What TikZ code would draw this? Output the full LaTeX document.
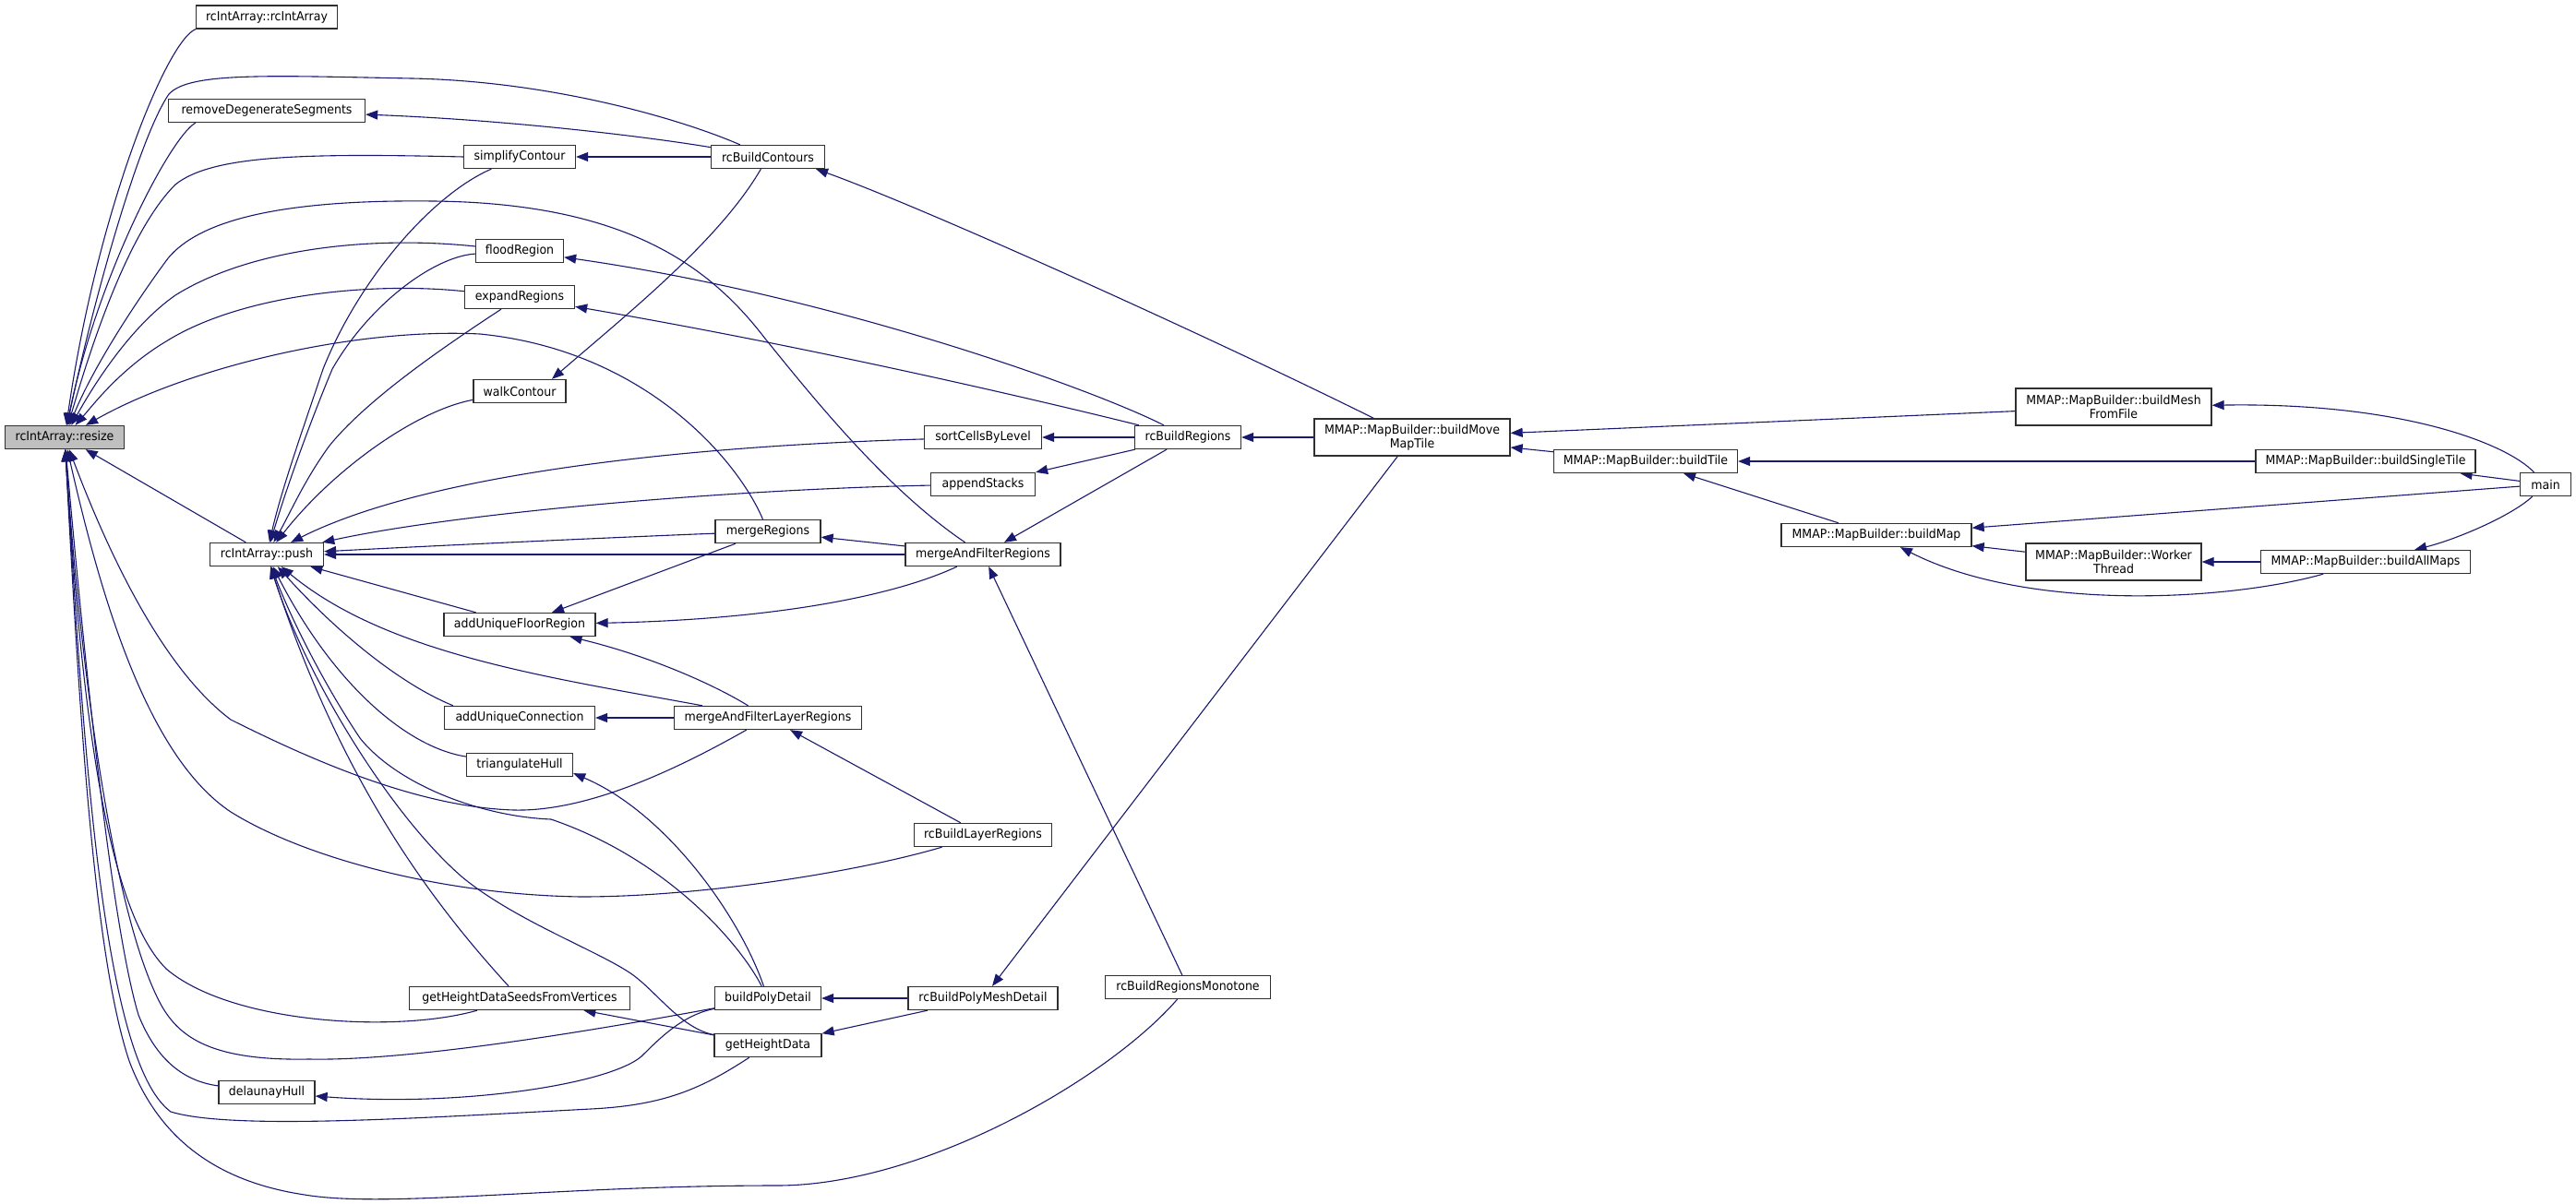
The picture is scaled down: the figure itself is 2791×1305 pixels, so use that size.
\documentclass[tikz,border=0pt]{standalone}
\usepackage{fontspec}
\setmainfont{DejaVu Sans}[FakeStretch=0.93]
\usetikzlibrary{arrows.meta}
\definecolor{edgeblue}{HTML}{191970}
\definecolor{nodegray}{HTML}{BFBFBF}
\definecolor{nodeborder}{HTML}{303030}
\pgfdeclarelayer{canvas}
\pgfdeclarelayer{background}
\pgfsetlayers{canvas,background,main}
\tikzset{
  fnode/.style={draw=nodeborder, line width=1.3pt, fill=white, rectangle,
    minimum height=25pt, inner xsep=2pt, inner ysep=0pt, align=center,
    font=\fontsize{13.5}{15}\selectfont},
  fnodetwo/.style={fnode, minimum height=40pt},
  calledge/.style={draw=edgeblue, line width=1.1pt,
    -{Triangle[length=13pt,width=10pt]}, fill=none}
}
\begin{document}
\begin{tikzpicture}[x=1pt,y=-1pt]
\begin{pgfonlayer}{canvas}
\fill[white] (0,0) rectangle (2791,1305);
\end{pgfonlayer}
\useasboundingbox (0,0) rectangle (2791,1305);

% rank 0
\node[fnode, minimum width=129pt, fill=nodegray] (resize) at (70,474) {rcIntArray::resize};
% rank 1
\node[fnode, minimum width=153pt] (rcint) at (289,18.5) {rcIntArray::rcIntArray};
\node[fnode, minimum width=213pt] (remdeg) at (289,120) {removeDegenerateSegments};
\node[fnode, minimum width=123pt] (push) at (289,601) {rcIntArray::push};
\node[fnode, minimum width=104pt] (dh) at (289,1184) {delaunayHull};
% rank 2
\node[fnode, minimum width=121pt] (simp) at (563,170) {simplifyContour};
\node[fnode, minimum width=95pt] (flood) at (563,272) {floodRegion};
\node[fnode, minimum width=119pt] (expand) at (563,322) {expandRegions};
\node[fnode, minimum width=100pt] (walk) at (563,424) {walkContour};
\node[fnode, minimum width=164pt] (aufr) at (563,677) {addUniqueFloorRegion};
\node[fnode, minimum width=163pt] (auc) at (563,778) {addUniqueConnection};
\node[fnode, minimum width=115pt] (tri) at (563,829) {triangulateHull};
\node[fnode, minimum width=239pt] (seeds) at (563,1082) {getHeightDataSeedsFromVertices};
% rank 3
\node[fnode, minimum width=123pt] (rcbc) at (832,170) {rcBuildContours};
\node[fnode, minimum width=114pt] (merge) at (832,576) {mergeRegions};
\node[fnode, minimum width=203pt] (maflr) at (832,778) {mergeAndFilterLayerRegions};
\node[fnode, minimum width=115pt] (bpd) at (832,1082) {buildPolyDetail};
\node[fnode, minimum width=116pt] (ghd) at (832,1133) {getHeightData};
% rank 4
\node[fnode, minimum width=127pt] (sort) at (1065,474) {sortCellsByLevel};
\node[fnode, minimum width=113pt] (append) at (1065,525) {appendStacks};
\node[fnode, minimum width=168pt] (mafr) at (1065,601) {mergeAndFilterRegions};
\node[fnode, minimum width=149pt] (rcblr) at (1065,905) {rcBuildLayerRegions};
\node[fnode, minimum width=162pt] (rbpmd) at (1065,1082) {rcBuildPolyMeshDetail};
% rank 5
\node[fnode, minimum width=115pt] (rcbr) at (1287,474) {rcBuildRegions};
\node[fnode, minimum width=179pt] (mono) at (1287,1070) {rcBuildRegionsMonotone};
% right part
\node[fnodetwo, minimum width=212pt] (bmmt) at (1530,474) {MMAP::MapBuilder::buildMove\\MapTile};
\node[fnode, minimum width=199pt] (bt) at (1783,500) {MMAP::MapBuilder::buildTile};
\node[fnode, minimum width=206pt] (bmap) at (2033,580) {MMAP::MapBuilder::buildMap};
\node[fnodetwo, minimum width=212pt] (bmff) at (2290,441) {MMAP::MapBuilder::buildMesh\\FromFile};
\node[fnodetwo, minimum width=190pt] (wt) at (2290,609) {MMAP::MapBuilder::Worker\\Thread};
\node[fnode, minimum width=238pt] (bst) at (2563,500) {MMAP::MapBuilder::buildSingleTile};
\node[fnode, minimum width=227pt] (bam) at (2563,609) {MMAP::MapBuilder::buildAllMaps};
\node[fnode, minimum width=55pt] (main) at (2758,525) {main};

\begin{pgfonlayer}{background}
% callers of rcIntArray::resize
\draw[calledge] (rcint.south west) .. controls (180,45) and (105,230) .. (resize);
\draw[calledge] (rcbc) .. controls (740,130) and (600,88) .. (446,85) .. controls (290,82) and (205,78) .. (183,102) .. controls (150,150) and (100,330) .. (resize);
\draw[calledge] ([xshift=30pt]remdeg.south west) .. controls (185,148) and (105,300) .. (resize);
\draw[calledge] (simp.west) .. controls (330,166) and (230,168) .. (190,200) .. controls (140,250) and (100,370) .. (resize);
\draw[calledge] (mafr) .. controls (960,530) and (880,430) .. (829,367) .. controls (770,290) and (680,220) .. (469,218) .. controls (300,216) and (215,240) .. (182,280) .. controls (145,330) and (100,400) .. (resize);
\draw[calledge] (flood) .. controls (400,255) and (270,270) .. (190,320) .. controls (140,355) and (100,420) .. (resize);
\draw[calledge] (expand) .. controls (400,305) and (260,320) .. (180,370) .. controls (130,400) and (100,440) .. (resize);
\draw[calledge] (merge) .. controls (800,500) and (700,380) .. (520,362) .. controls (380,355) and (200,400) .. (resize);
\draw[calledge] (push) -- (resize);
\draw[calledge] (maflr) .. controls (740,830) and (640,880) .. (557,878) .. controls (450,875) and (330,820) .. (250,780) .. controls (170,720) and (110,580) .. (resize);
\draw[calledge] (rcblr) .. controls (930,945) and (760,972) .. (630,972) .. controls (480,970) and (330,930) .. (250,880) .. controls (160,820) and (110,650) .. (resize);
\draw[calledge] (seeds) .. controls (430,1120) and (250,1110) .. (180,1050) .. controls (120,990) and (90,800) .. (resize);
\draw[calledge] (bpd) .. controls (600,1125) and (430,1150) .. (335,1148) .. controls (230,1150) and (195,1125) .. (175,1090) .. controls (120,990) and (85,700) .. (resize);
\draw[calledge] (dh) .. controls (200,1172) and (170,1150) .. (150,1100) .. controls (120,1000) and (90,700) .. (resize);
\draw[calledge] (ghd) .. controls (760,1180) and (720,1198) .. (640,1202) .. controls (450,1212) and (250,1225) .. (185,1205) .. controls (110,1150) and (90,800) .. (resize);
\draw[calledge] (mono) .. controls (1200,1170) and (1000,1285) .. (842,1285) .. controls (600,1285) and (420,1310) .. (330,1295) .. controls (230,1280) and (170,1230) .. (140,1150) .. controls (100,1030) and (85,750) .. (resize);

% callers of rcIntArray::push
\draw[calledge] (simp) .. controls (470,210) and (390,300) .. (350,400) .. controls (330,460) and (305,530) .. (push);
\draw[calledge] (flood) .. controls (470,278) and (400,330) .. (360,400) .. controls (335,460) and (310,530) .. (push);
\draw[calledge] (expand) .. controls (490,370) and (400,430) .. (357,483) .. controls (330,520) and (315,555) .. (push);
\draw[calledge] (walk) .. controls (450,445) and (360,510) .. (push);
\draw[calledge] (sort) .. controls (700,485) and (450,520) .. (push);
\draw[calledge] (append) .. controls (800,530) and (500,555) .. (push);
\draw[calledge] (merge) .. controls (700,581) and (500,590) .. (push);
\draw[calledge] (mafr) -- (push);
\draw[calledge] (aufr) -- (push);
\draw[calledge] (maflr) .. controls (600,735) and (420,710) .. (push);
\draw[calledge] ([xshift=-72pt]auc.north) .. controls (430,740) and (360,680) .. (push);
\draw[calledge] (tri) .. controls (440,810) and (360,740) .. (push);
\draw[calledge] (seeds) .. controls (470,980) and (370,850) .. (push);
\draw[calledge] (bpd) .. controls (800,1020) and (720,930) .. (597,888) .. controls (520,885) and (430,850) .. (390,800) .. controls (350,740) and (315,670) .. (push);
\draw[calledge] (ghd) .. controls (740,1115) and (715,1080) .. (690,1060) .. controls (660,1035) and (560,1000) .. (500,950) .. controls (420,880) and (330,730) .. (push);

% other calls
\draw[calledge] (rcbc) .. controls (700,148) and (550,130) .. (remdeg);
\draw[calledge] (rcbc) -- (simp);
\draw[calledge] (rcbc) .. controls (780,260) and (680,340) .. ([xshift=35pt]walk.north);
\draw[calledge] (bmmt) .. controls (1300,360) and (1000,225) .. ([xshift=52pt]rcbc.south);
\draw[calledge] (bmmt) -- (rcbr);
\draw[calledge] (bmmt) -- (rbpmd);
\draw[calledge] (rcbr) .. controls (1180,420) and (900,320) .. (flood);
\draw[calledge] (rcbr) .. controls (1150,440) and (900,380) .. (expand);
\draw[calledge] (rcbr) -- (sort);
\draw[calledge] (rcbr) -- (append);
\draw[calledge] (rcbr) -- (mafr);
\draw[calledge] (mono) -- (mafr);
\draw[calledge] (mafr) -- (merge);
\draw[calledge] (merge) -- (aufr);
\draw[calledge] (mafr) .. controls (960,650) and (820,672) .. (aufr);
\draw[calledge] (maflr) .. controls (770,740) and (700,710) .. (aufr);
\draw[calledge] (maflr) -- (auc);
\draw[calledge] (rcblr) -- (maflr);
\draw[calledge] (rbpmd) -- (bpd);
\draw[calledge] (rbpmd) -- (ghd);
\draw[calledge] (bpd) .. controls (800,990) and (720,880) .. ([yshift=4pt]tri.south east);
\draw[calledge] (bpd) .. controls (740,1100) and (715,1125) .. (695,1145) .. controls (660,1175) and (500,1200) .. (dh);
\draw[calledge] (ghd) -- (seeds);
\draw[calledge] (bt) -- (bmmt);
\draw[calledge] (bmff) -- (bmmt);
\draw[calledge] (bst) -- (bt);
\draw[calledge] (bmap) -- (bt);
\draw[calledge] (main) -- (bmap);
\draw[calledge] (wt) -- (bmap);
\draw[calledge] (bam) .. controls (2420,650) and (2200,665) .. (bmap);
\draw[calledge] (bam) -- (wt);
\draw[calledge] (main) .. controls (2715,480) and (2600,436) .. (bmff);
\draw[calledge] (main) -- (bst);
\draw[calledge] (main) .. controls (2720,560) and (2660,585) .. (bam);
\end{pgfonlayer}
\end{tikzpicture}
\end{document}
